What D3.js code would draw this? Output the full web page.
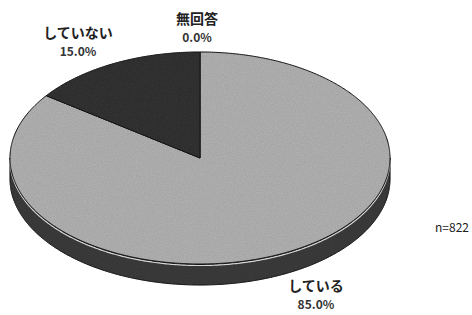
<!DOCTYPE html>
<html>
<head>
<meta charset="utf-8">
<script src="https://cdn.jsdelivr.net/npm/d3@7"></script>
<style>
  body { margin: 0; background: #fff; }
  text { font-family: "Noto Sans CJK JP", "Noto Sans", sans-serif; fill: #222; }
</style>
</head>
<body>
<svg class="pie"></svg>
<script>

// chart data
var categories = ["している", "していない", "無回答"];
var values = [85.0, 15.0, 0.0];
var sampleSize = "n=822";

var width = 472,
    height = 315;

var svg = d3.select(".pie")
    .attr("width", width)
    .attr("height", height);

// noise filter for the scanned look
var defs = svg.append("defs");
var filter = defs.append("filter").attr("id", "grain");
filter.append("feTurbulence")
    .attr("type", "fractalNoise")
    .attr("baseFrequency", 0.9)
    .attr("numOctaves", 2)
    .attr("seed", 3)
    .attr("result", "noise");
filter.append("feColorMatrix")
    .attr("in", "noise")
    .attr("type", "matrix")
    .attr("values", "0 0 0 0 0  0 0 0 0 0  0 0 0 0 0  0 0 0 0.25 0")
    .attr("result", "dots");
filter.append("feComposite")
    .attr("in", "dots")
    .attr("in2", "SourceGraphic")
    .attr("operator", "in")
    .attr("result", "clipped");
var merge = filter.append("feMerge");
merge.append("feMergeNode").attr("in", "SourceGraphic");
merge.append("feMergeNode").attr("in", "clipped");

var cx = 200, cy = 158, rx = 190, ry = 106, depth = 21;

var topColors = ["#b5b5b5", "#363636", "#e0e0e0"];
var sideColors = ["#3e3e3e", "#262626", "#888888"];

var pie = d3.pie().sort(null).startAngle(0).endAngle(2 * Math.PI);
var arcs = pie(values);

function pt(a, dy) {
    return [cx + rx * Math.sin(a), cy - ry * Math.cos(a) + (dy || 0)];
}

var line = d3.line();

// side walls (front half only: angles between pi/2 and 3pi/2)
arcs.forEach(function(d, i) {
    var a0 = Math.max(d.startAngle, Math.PI / 2),
        a1 = Math.min(d.endAngle, 3 * Math.PI / 2);
    if (a1 <= a0) return;
    var top = d3.range(a0, a1, 0.01).concat([a1]).map(function(a) { return pt(a, 0); });
    var bottom = top.slice().reverse().map(function(p) { return [p[0], p[1] + depth]; });
    svg.append("path")
        .attr("d", line(top.concat(bottom)) + "Z")
        .attr("fill", sideColors[i])
        .attr("stroke", "#1a1a1a")
        .attr("stroke-width", 1)
        .attr("filter", "url(#grain)");
    // light rim along the top of the wall
    svg.append("path")
        .attr("d", line(top.map(function(p) { return [p[0], p[1] + 1.5]; })))
        .attr("fill", "none")
        .attr("stroke", "#d8d8d8")
        .attr("stroke-width", 1.2);
});

// top faces
arcs.forEach(function(d, i) {
    if (d.endAngle - d.startAngle <= 0) return;
    var pts = d3.range(d.startAngle, d.endAngle, 0.01).concat([d.endAngle]).map(function(a) { return pt(a); });
    svg.append("path")
        .attr("d", line([[cx, cy]].concat(pts)) + "Z")
        .attr("fill", topColors[i])
        .attr("stroke", "#1a1a1a")
        .attr("stroke-width", 1)
        .attr("stroke-linejoin", "round")
        .attr("filter", "url(#grain)");
});

// labels placed outside the ellipse at each slice's mid angle
var lrx = 262, lry = 130;
arcs.forEach(function(d, i) {
    var mid = (d.startAngle + d.endAngle) / 2;
    var x = cx + lrx * Math.sin(mid),
        y = cy - lry * Math.cos(mid);
    if (Math.cos(mid) < 0) y += depth;
    var g = svg.append("g").attr("transform", "translate(" + (x - 3) + "," + y + ")");
    g.append("text")
        .attr("y", -4)
        .attr("text-anchor", "middle")
        .style("font-size", "14px")
        .style("font-weight", "bold")
        .text(categories[i]);
    g.append("text")
        .attr("y", 14)
        .attr("text-anchor", "middle")
        .style("font-size", "12px")
        .style("font-weight", "bold")
        .style("fill", "#333")
        .text(d3.format(".1f")(values[i]) + "%");
});

svg.append("text")
    .attr("x", 452)
    .attr("y", 232)
    .attr("text-anchor", "middle")
    .style("font-size", "12px")
    .text(sampleSize);

</script>
</body>
</html>
